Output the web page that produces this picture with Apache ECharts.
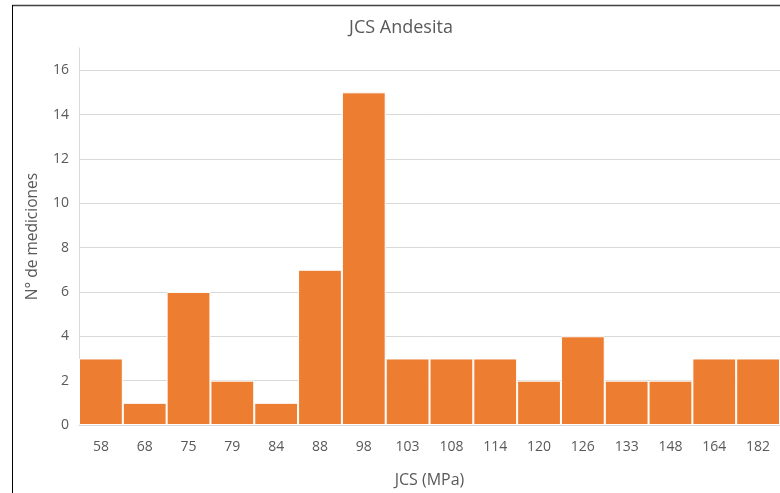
<!DOCTYPE html>
<html><head><meta charset="utf-8">
<script src="https://cdn.jsdelivr.net/npm/echarts@6/dist/echarts.min.js"></script>
<style>html,body{margin:0;padding:0;background:#fff;overflow:hidden}#c{width:780px;height:493px}</style>
</head><body><div id="c"></div>
<script>
const categories = ['58','68','75','79','84','88','98','103','108','114','120','126','133','148','164','182'];
const counts = [3,1,6,2,1,7,15,3,3,3,2,4,2,2,3,3];
const chartTitle = 'JCS Andesita';
const xName = 'JCS (MPa)';
const yName = 'N° de mediciones';
const font = 'Open Sans, Liberation Sans, Arial, sans-serif';
const chart = echarts.init(document.getElementById('c'), null, {renderer:'canvas'});
chart.setOption({
  animation:false,
  backgroundColor:'#fff',
  grid:{left:79,right:0,top:48,bottom:66},
  xAxis:{type:'category',data:categories,
    name:xName,nameLocation:'middle',nameGap:47,nameTextStyle:{fontFamily:font,fontSize:16,color:'#595959'},
    axisLine:{lineStyle:{color:'#d9d9d9'}},axisTick:{show:false},
    axisLabel:{fontFamily:font,fontSize:14,color:'#595959',margin:15}},
  yAxis:{type:'value',min:0,max:17,interval:2,
    name:yName,nameLocation:'middle',nameGap:38,nameTextStyle:{fontFamily:font,fontSize:15.5,color:'#595959'},
    axisLine:{show:true,lineStyle:{color:'#d9d9d9'}},axisTick:{show:false},
    axisLabel:{fontFamily:font,fontSize:14,color:'#595959',margin:10,showMaxLabel:false},
    splitLine:{showMaxLine:false,lineStyle:{color:'#d9d9d9'}}},
  series:[{type:'bar',data:counts,barCategoryGap:'0%',
    itemStyle:{color:'#ED7D31',borderColor:'#ffffff',borderWidth:1}}],
  graphic:[
    {type:'text',x:401,y:28,style:{text:chartTitle,font:'18px Open Sans, sans-serif',fill:'#595959',textAlign:'center',textVerticalAlign:'middle'}},
    {type:'line',shape:{x1:12,y1:5.5,x2:780,y2:5.5},style:{stroke:'#404040',lineWidth:1.5}},
    {type:'line',shape:{x1:12.5,y1:5,x2:12.5,y2:493},style:{stroke:'#000',lineWidth:1}}
  ]
});
</script></body></html>
